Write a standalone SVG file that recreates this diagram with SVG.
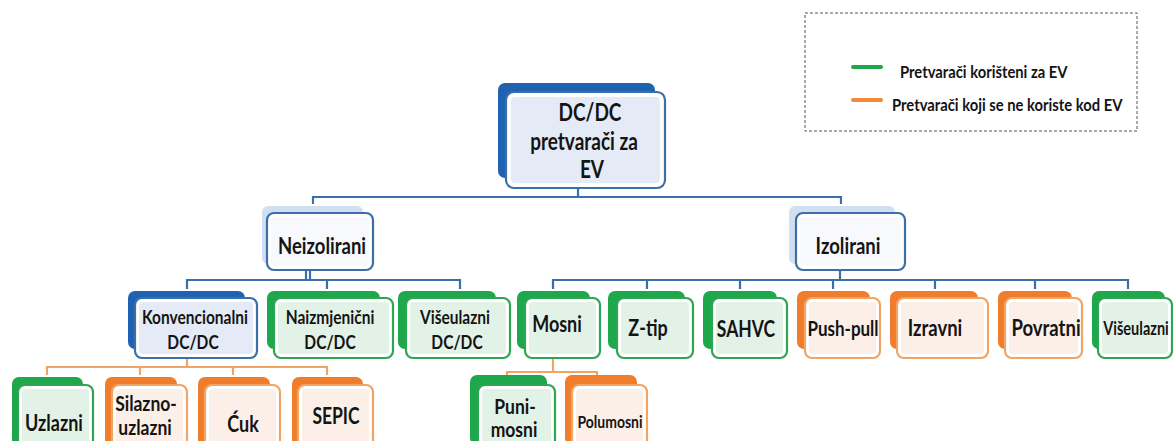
<svg xmlns="http://www.w3.org/2000/svg" width="1173" height="441" viewBox="0 0 1173 441">
<style>
.bg{fill:#ffffff}
.t{font-family:Lato,"Open Sans","Liberation Sans",sans-serif;font-weight:bold;fill:#141414;text-anchor:middle;dominant-baseline:central}
.lg{font-family:Lato,"Open Sans","Liberation Sans",sans-serif;font-weight:bold;fill:#141414;dominant-baseline:central;font-size:14.8px}
.cb{fill:none;stroke:#3b6fa8;stroke-width:2.2}
.co{fill:none;stroke:#f0a466;stroke-width:2.2}
.bkB{fill:#1f62b2}
.bkL{fill:#d2dff0}
.bkG{fill:#1ea84b}
.bkO{fill:#f07d2b}
.frB{fill:#ffffff;stroke:#3a6fa9;stroke-width:2.2}
.frG{fill:#ffffff;stroke:#2ea552;stroke-width:2.2}
.frO{fill:#ffffff;stroke:#f0a466;stroke-width:2.2}
.inB{fill:#e4ebf7}
.inL{fill:#f7f9fc}
.inG{fill:#e3f2e7}
.inO{fill:#fcefe7}
</style>
<rect class="bg" x="0" y="0" width="1173" height="441"/>

<g id="legend">
<rect x="805" y="13" width="332" height="118" fill="none" stroke="#555" stroke-width="1" stroke-dasharray="3,2"/>
<line x1="853" y1="67" x2="881" y2="67" stroke="#1ea84b" stroke-width="4" stroke-linecap="round"/>
<line x1="853" y1="100" x2="881" y2="100" stroke="#f08a3c" stroke-width="4" stroke-linecap="round"/>
<text class="lg" transform="translate(900,71) scale(1,1.2)">Pretvarači korišteni  za EV</text>
<text class="lg" transform="translate(892,104) scale(1,1.2)">Pretvarači koji se ne koriste kod EV</text>
</g>

<g id="connectors">
<polyline class="cb" points="578,188 578,197"/>
<polyline class="cb" points="313,204 313,197 841,197 841,204"/>
<polyline class="cb" points="306,270 306,280"/>
<polyline class="cb" points="310,270 310,280"/>
<polyline class="cb" points="187,289 187,280 460,280 460,289"/>
<polyline class="cb" points="327,280 327,289"/>
<polyline class="cb" points="840,270 840,280"/>
<polyline class="cb" points="553,289 553,280 1128,280 1128,289"/>
<polyline class="cb" points="647,280 647,289"/>
<polyline class="cb" points="740,280 740,289"/>
<polyline class="cb" points="833,280 833,289"/>
<polyline class="cb" points="935,280 935,289"/>
<polyline class="cb" points="1035,280 1035,289"/>
<polyline class="co" points="187,358 187,367"/>
<polyline class="co" points="47,375 47,367 327,367 327,375"/>
<polyline class="co" points="140,367 140,375"/>
<polyline class="co" points="233,367 233,375"/>
<polyline class="co" points="553,358 553,372"/>
<polyline class="co" points="507,378 507,372 597,372 597,378"/>
</g>

<g id="root">
<rect class="bkB" x="498" y="83" width="157" height="95" rx="7"/>
<rect class="frB" x="506" y="92" width="159" height="96" rx="8"/>
<rect class="inB" x="511" y="97" width="149" height="86" rx="4"/>
<text class="t" font-size="19" transform="translate(590,111) scale(1,1.3)">DC/DC</text>
<text class="t" font-size="19" transform="translate(584,140) scale(1,1.3)">pretvarači za</text>
<text class="t" font-size="19" transform="translate(592,168) scale(1,1.3)">EV</text>
</g>

<g id="neizolirani">
<rect class="bkL" x="262" y="206" width="101" height="58" rx="6"/>
<rect class="frB" x="267" y="213" width="106" height="57" rx="7"/>
<rect class="inL" x="271" y="217" width="98" height="49" rx="4"/>
<text class="t" font-size="18.5" transform="translate(322,245) scale(1,1.2)">Neizolirani</text>
</g>

<g id="izolirani">
<rect class="bkL" x="789" y="206" width="106" height="58" rx="6"/>
<rect class="frB" x="796" y="213" width="109" height="57" rx="7"/>
<rect class="inL" x="800" y="217" width="101" height="49" rx="4"/>
<text class="t" font-size="18.5" transform="translate(848,245) scale(1,1.2)">Izolirani</text>
</g>

<g id="konvencionalni">
<rect class="bkB" x="128" y="291" width="117" height="58" rx="7"/>
<rect class="frB" x="135" y="298" width="122" height="60" rx="7"/>
<rect class="inB" x="139" y="302" width="114" height="52" rx="4"/>
<text class="t" font-size="15.5" transform="translate(195,317) scale(1,1.25)">Konvencionalni</text>
<text class="t" font-size="15.5" transform="translate(193,342) scale(1,1.25)">DC/DC</text>
</g>

<g id="naizmjenicni">
<rect class="bkG" x="267" y="291" width="113" height="58" rx="7"/>
<rect class="frG" x="274" y="298" width="119" height="60" rx="7"/>
<rect class="inG" x="278" y="302" width="111" height="52" rx="4"/>
<text class="t" font-size="15.5" transform="translate(330,317) scale(1,1.25)">Naizmjenični</text>
<text class="t" font-size="15.5" transform="translate(330,342) scale(1,1.25)">DC/DC</text>
</g>

<g id="viseulazni-dcdc">
<rect class="bkG" x="398" y="291" width="98" height="58" rx="7"/>
<rect class="frG" x="406" y="298" width="104" height="60" rx="7"/>
<rect class="inG" x="410" y="302" width="96" height="52" rx="4"/>
<text class="t" font-size="15.5" transform="translate(455,317) scale(1,1.25)">Višeulazni</text>
<text class="t" font-size="15.5" transform="translate(457,342) scale(1,1.25)">DC/DC</text>
</g>

<g id="mosni">
<rect class="bkG" x="517" y="291" width="73" height="58" rx="7"/>
<rect class="frG" x="525" y="298" width="75" height="60" rx="7"/>
<rect class="inG" x="529" y="302" width="67" height="52" rx="4"/>
<text class="t" font-size="18" transform="translate(557,323) scale(1,1.25)">Mosni</text>
</g>

<g id="z-tip">
<rect class="bkG" x="608" y="291" width="77" height="58" rx="7"/>
<rect class="frG" x="617" y="298" width="76" height="60" rx="7"/>
<rect class="inG" x="621" y="302" width="68" height="52" rx="4"/>
<text class="t" font-size="18" transform="translate(648,327) scale(1,1.25)">Z-tip</text>
</g>

<g id="sahvc">
<rect class="bkG" x="703" y="291" width="74" height="58" rx="7"/>
<rect class="frG" x="712" y="298" width="75" height="60" rx="7"/>
<rect class="inG" x="716" y="302" width="67" height="52" rx="4"/>
<text class="t" font-size="17.5" transform="translate(746,328) scale(1,1.25)">SAHVC</text>
</g>

<g id="push-pull">
<rect class="bkO" x="797" y="291" width="73" height="58" rx="7"/>
<rect class="frO" x="805" y="298" width="75" height="60" rx="7"/>
<rect class="inO" x="809" y="302" width="67" height="52" rx="4"/>
<text class="t" font-size="17" transform="translate(843,328) scale(1,1.25)">Push-pull</text>
</g>

<g id="izravni">
<rect class="bkO" x="890" y="291" width="88" height="58" rx="7"/>
<rect class="frO" x="897" y="298" width="91" height="60" rx="7"/>
<rect class="inO" x="901" y="302" width="83" height="52" rx="4"/>
<text class="t" font-size="18.5" transform="translate(935,327) scale(1,1.25)">Izravni</text>
</g>

<g id="povratni">
<rect class="bkO" x="998" y="291" width="74" height="58" rx="7"/>
<rect class="frO" x="1005" y="298" width="77" height="60" rx="7"/>
<rect class="inO" x="1009" y="302" width="69" height="52" rx="4"/>
<text class="t" font-size="18.5" transform="translate(1046,327) scale(1,1.25)">Povratni</text>
</g>

<g id="viseulazni">
<rect class="bkG" x="1092" y="291" width="73" height="58" rx="7"/>
<rect class="frG" x="1098" y="298" width="74" height="60" rx="7"/>
<rect class="inG" x="1102" y="302" width="66" height="52" rx="4"/>
<text class="t" font-size="14.5" transform="translate(1136,328) scale(1,1.25)">Višeulazni</text>
</g>

<g id="uzlazni">
<rect class="bkG" x="12" y="377" width="71" height="70" rx="7"/>
<rect class="frG" x="18" y="385" width="75" height="70" rx="7"/>
<rect class="inG" x="22" y="389" width="67" height="62" rx="4"/>
<text class="t" font-size="18" transform="translate(54,422) scale(1,1.25)">Uzlazni</text>
</g>

<g id="silazno-uzlazni">
<rect class="bkO" x="105" y="377" width="72" height="70" rx="7"/>
<rect class="frO" x="112" y="385" width="75" height="70" rx="7"/>
<rect class="inO" x="116" y="389" width="67" height="62" rx="4"/>
<text class="t" font-size="17.5" transform="translate(146,403) scale(1,1.18)">Silazno-</text>
<text class="t" font-size="17.5" transform="translate(145,427) scale(1,1.18)">uzlazni</text>
</g>

<g id="cuk">
<rect class="bkO" x="198" y="377" width="72" height="70" rx="7"/>
<rect class="frO" x="205" y="385" width="75" height="70" rx="7"/>
<rect class="inO" x="209" y="389" width="67" height="62" rx="4"/>
<text class="t" font-size="18" transform="translate(243,423) scale(1,1.25)">Ćuk</text>
</g>

<g id="sepic">
<rect class="bkO" x="292" y="377" width="71" height="70" rx="7"/>
<rect class="frO" x="298" y="385" width="75" height="70" rx="7"/>
<rect class="inO" x="302" y="389" width="67" height="62" rx="4"/>
<text class="t" font-size="17.5" transform="translate(336,415) scale(1,1.25)">SEPIC</text>
</g>

<g id="puni-mosni">
<rect class="bkG" x="470" y="375" width="77" height="70" rx="7"/>
<rect class="frG" x="478" y="385" width="77" height="70" rx="7"/>
<rect class="inG" x="482" y="389" width="69" height="62" rx="4"/>
<text class="t" font-size="17.5" transform="translate(515,406) scale(1,1.18)">Puni-</text>
<text class="t" font-size="17.5" transform="translate(514,429) scale(1,1.18)">mosni</text>
</g>

<g id="polumosni">
<rect class="bkO" x="565" y="375" width="72" height="70" rx="7"/>
<rect class="frO" x="572" y="385" width="75" height="70" rx="7"/>
<rect class="inO" x="576" y="389" width="67" height="62" rx="4"/>
<text class="t" font-size="14" transform="translate(610,421) scale(1,1.25)">Polumosni</text>
</g>
</svg>
